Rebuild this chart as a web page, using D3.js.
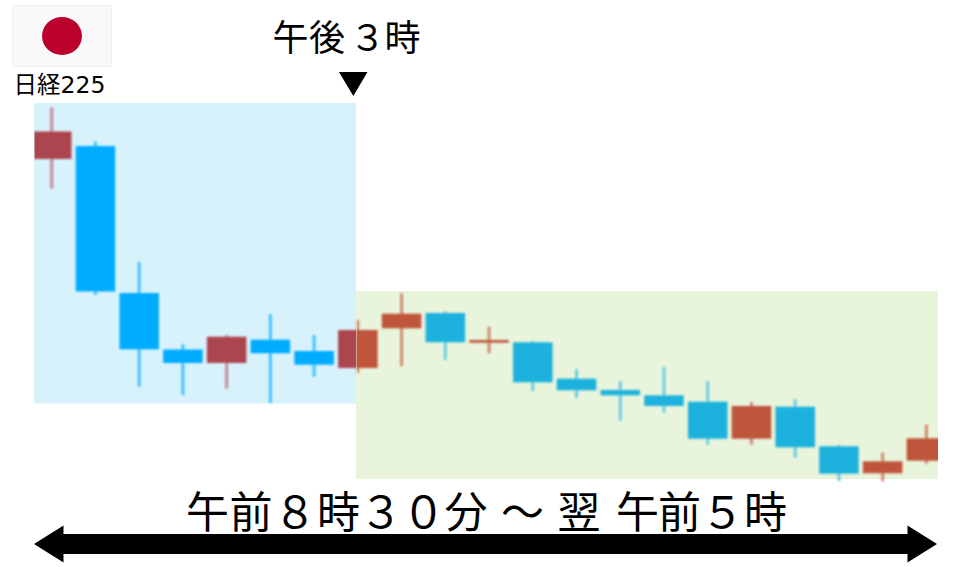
<!DOCTYPE html>
<html>
<head>
<meta charset="utf-8">
<script src="https://cdn.jsdelivr.net/npm/d3@7"></script>
<style>
    html, body { margin: 0; padding: 0; background: #fff; overflow: hidden; }
    svg { display: block; }
    text { font-family: "Noto Sans CJK JP", sans-serif; fill: #000; }
</style>
</head>
<body>
<script>
const measurements = {
    width: 960,
    height: 567
}

// candles, in points above the bottom of the green band
const candles = ['c1', 'c2', 'c3', 'c4', 'c5', 'c6', 'c7', 'c8', 'c9', 'c10', 'c11',
    'c12', 'c13', 'c14', 'c15', 'c16', 'c17', 'c18', 'c19', 'c20', 'c21']
const openValues = [320, 333, 186, 129.5, 116, 139.3, 128, 111, 150.7, 166, 136.3,
    136.7, 100.3, 89, 83.7, 77.3, 40.3, 72.3, 32.7, 5.7, 18.3]
const closeValues = [347.5, 187.5, 129.7, 116, 142.3, 125.7, 114.3, 149, 165.3, 136.7, 139,
    96.7, 88.7, 83.7, 73, 40.3, 73, 31.7, 5.3, 17.7, 40.7]
const highValues = [371.5, 337.5, 217, 134.7, 144, 165, 144, 159, 185.7, 167.7, 152.3,
    138.3, 109.7, 97.7, 112.3, 97.7, 77, 80, 34, 26.3, 54.3]
const lowValues = [290.5, 184, 92.3, 84, 90.3, 76, 102.3, 106.3, 112.7, 119, 125.7,
    88, 81, 58.3, 66.3, 34.3, 34.3, 21.3, -2, -2.3, 15.3]

const leftLabel = '日経225'
const sessionLabel = '午後３時'
const rangeLabel = '午前８時３０分 ～ 翌 午前５時'

const svg = d3.select('body').append('svg')
    .attr('width', measurements.width)
    .attr('height', measurements.height)

// no axes on this chart, the scales only place the candles
const x = d3.scalePoint()
    .domain(candles)
    .range([51.7, 926.4])
const y = d3.scaleLinear()
    .domain([0, 376])
    .range([479, 103])
const bodyWidth = 39.5

// the two trading sessions
const sessions = [
    { id: 'tokyo', x0: 34, x1: 356, top: 103, bottom: 403.5, bg: '#d8f2fc', up: '#ad4450', down: '#00acff', upWick: '#c6899a', downWick: '#45c2fd' },
    { id: 'night', x0: 356, x1: 938, top: 291, bottom: 479, bg: '#e9f4dc', up: '#bf553a', down: '#1eb2dd', upWick: '#d08b70', downWick: '#6dcce0' }
]

svg.selectAll('.band')
    .data(sessions)
    .enter()
    .append('rect')
    .attr('class', 'band')
    .attr('x', d => d.x0)
    .attr('y', d => d.top)
    .attr('width', d => d.x1 - d.x0)
    .attr('height', d => d.bottom - d.top)
    .attr('fill', d => d.bg)

const defs = svg.append('defs')

// the candles in the reference are a scaled up image, so soften them a bit
defs.append('filter')
    .attr('id', 'soft')
    .attr('filterUnits', 'userSpaceOnUse')
    .attr('x', 0)
    .attr('y', 0)
    .attr('width', measurements.width)
    .attr('height', measurements.height)
    .append('feGaussianBlur')
    .attr('stdDeviation', 0.8)

// each session gets its own copy of the candles, clipped to its width
sessions.forEach(function (s) {
    defs.append('clipPath')
        .attr('id', 'clip-' + s.id)
        .append('rect')
        .attr('x', s.x0 + 0.5)
        .attr('y', 0)
        .attr('width', s.x1 - s.x0 - 0.5)
        .attr('height', measurements.height)

    const g = svg.append('g')
        .attr('clip-path', 'url(#clip-' + s.id + ')')
        .append('g')
        .attr('filter', 'url(#soft)')

    const isUp = i => closeValues[i] > openValues[i]

    g.selectAll('.wick')
        .data(candles)
        .enter()
        .append('line')
        .attr('x1', d => x(d))
        .attr('x2', d => x(d))
        .attr('y1', (d, i) => y(highValues[i]))
        .attr('y2', (d, i) => y(lowValues[i]))
        .attr('stroke', (d, i) => isUp(i) ? s.upWick : s.downWick)
        .attr('stroke-width', 3)

    g.selectAll('.body')
        .data(candles)
        .enter()
        .append('rect')
        .attr('x', d => x(d) - bodyWidth / 2)
        .attr('width', bodyWidth)
        .attr('y', (d, i) => y(Math.max(openValues[i], closeValues[i])))
        .attr('height', (d, i) => Math.abs(y(openValues[i]) - y(closeValues[i])))
        .attr('fill', (d, i) => isUp(i) ? s.up : s.down)
})

// flag
svg.append('rect')
    .attr('x', 12.5)
    .attr('y', 5.5)
    .attr('width', 99)
    .attr('height', 61)
    .attr('fill', '#f9f9f9')
    .attr('stroke', '#eeeeee')
svg.append('ellipse')
    .attr('cx', 62)
    .attr('cy', 36)
    .attr('rx', 20)
    .attr('ry', 19)
    .attr('fill', '#bc002d')

svg.append('text')
    .attr('x', 13.5)
    .attr('y', 93)
    .attr('font-size', 23.5)
    .style('font-family', '"DejaVu Sans", "Noto Sans CJK JP", sans-serif')
    .text(leftLabel)

// the labels have uneven letter spacing, so every character gets its own x
svg.append('text')
    .attr('x', [272.5, 309, 349.5, 384.5].join(' '))
    .attr('y', 51)
    .attr('font-size', 36)
    .text(sessionLabel)

// marker under the session label
svg.append('path')
    .attr('d', d3.line()([[339, 72], [367.5, 72], [353.3, 96]]) + 'Z')
    .attr('fill', '#000')

svg.append('text')
    .attr('x', [186, 229.5, 273.5, 317, 359.5, 402, 444.5, 490, 501, 550, 557.5, 600, 616, 658, 701, 744].join(' '))
    .attr('y', 528)
    .attr('font-size', 43)
    .text(rangeLabel)

// double headed arrow
svg.append('path')
    .attr('d', d3.line()([[34, 544], [63.5, 525.5], [63.5, 534], [907.5, 534], [907.5, 525.5],
        [937, 544], [907.5, 562.5], [907.5, 554], [63.5, 554], [63.5, 562.5]]) + 'Z')
    .attr('fill', '#000')
</script>
</body>
</html>
